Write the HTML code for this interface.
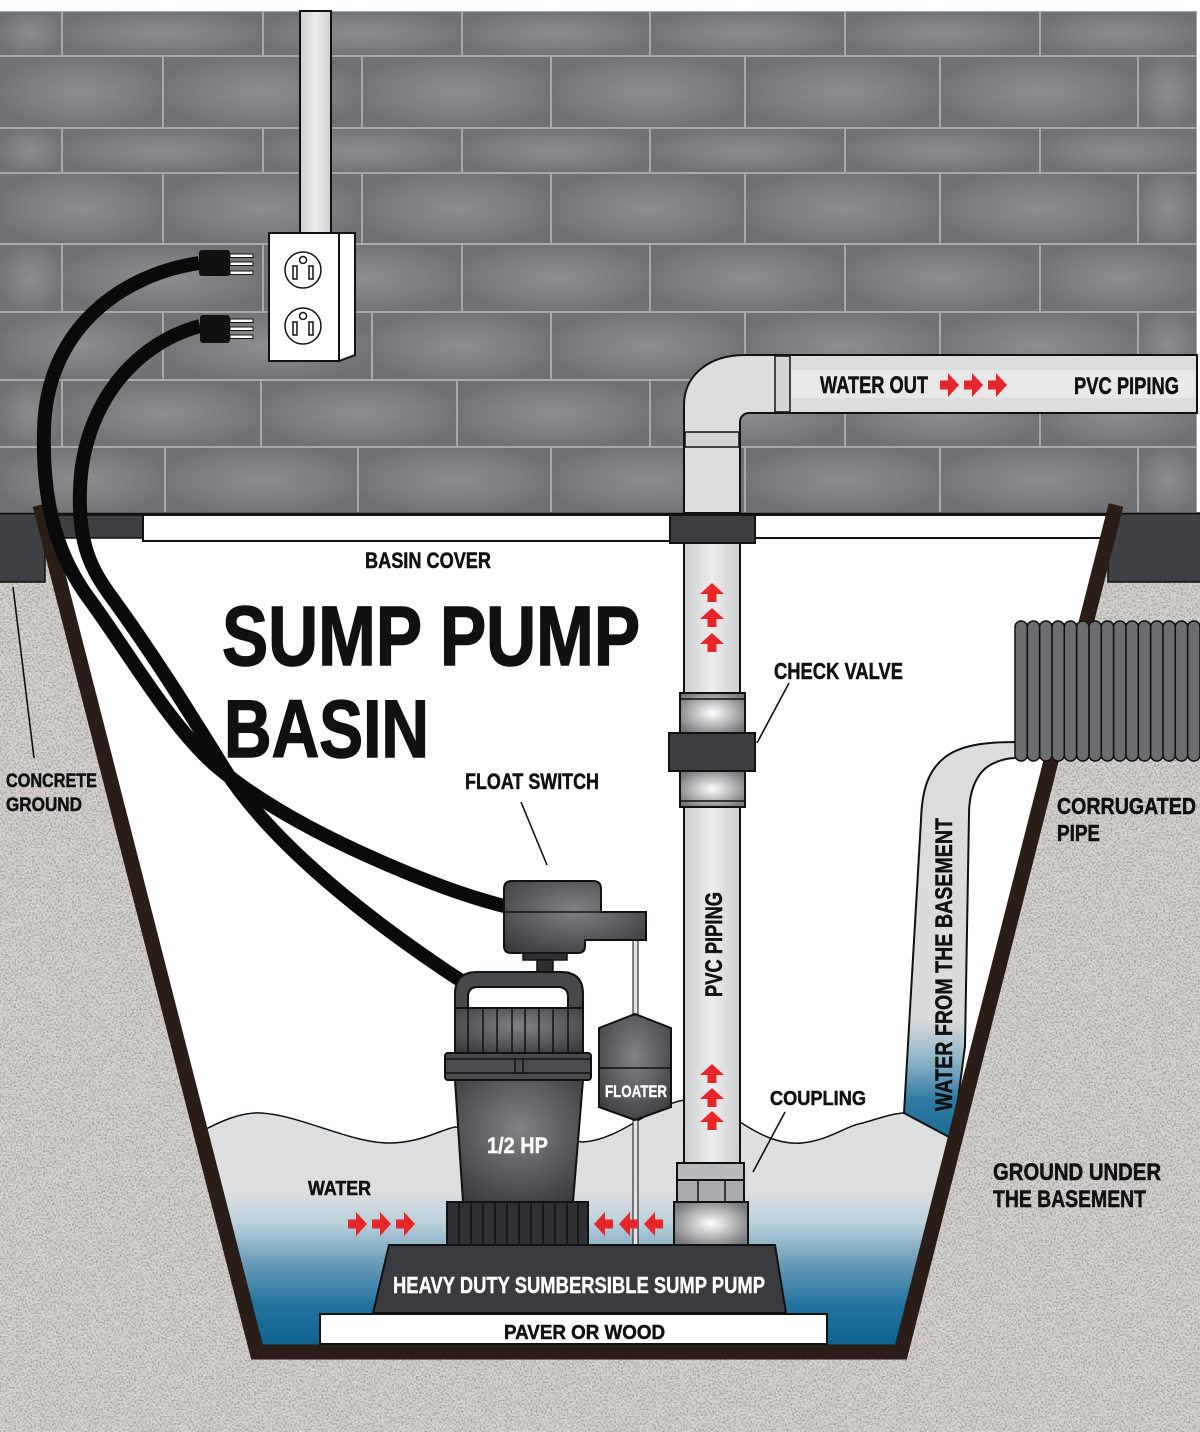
<!DOCTYPE html>
<html><head><meta charset="utf-8"><style>html,body{margin:0;padding:0;background:#fff}svg{display:block}</style></head>
<body>
<svg width="1200" height="1432" viewBox="0 0 1200 1432" xmlns="http://www.w3.org/2000/svg">
<defs>
<radialGradient id="brk" cx=".5" cy=".5" r=".55"><stop offset="0" stop-color="#8d8e91"/><stop offset=".55" stop-color="#7e7f82"/><stop offset="1" stop-color="#707174"/></radialGradient>
<linearGradient id="pipeV" x1="0" y1="0" x2="1" y2="0"><stop offset="0" stop-color="#cdced0"/><stop offset=".5" stop-color="#ececed"/><stop offset="1" stop-color="#cdced0"/></linearGradient>
<linearGradient id="pipeH" x1="0" y1="0" x2="0" y2="1"><stop offset="0" stop-color="#d0d1d3"/><stop offset=".5" stop-color="#ededee"/><stop offset="1" stop-color="#d0d1d3"/></linearGradient>
<radialGradient id="metal" cx=".5" cy=".5" r=".6"><stop offset="0" stop-color="#ffffff"/><stop offset=".35" stop-color="#cfcfd1"/><stop offset="1" stop-color="#77787b"/></radialGradient>
<radialGradient id="dark" cx=".5" cy=".4" r=".7"><stop offset="0" stop-color="#818286"/><stop offset=".6" stop-color="#56575b"/><stop offset="1" stop-color="#3a3b3e"/></radialGradient>
<linearGradient id="water" gradientUnits="userSpaceOnUse" x1="0" y1="1095" x2="0" y2="1350"><stop offset="0" stop-color="#dedfe1"/><stop offset=".38" stop-color="#dcdee0"/><stop offset=".5" stop-color="#bcd1dc"/><stop offset=".65" stop-color="#6e9fb9"/><stop offset=".82" stop-color="#2574a0"/><stop offset="1" stop-color="#0c5f8c"/></linearGradient>
<linearGradient id="inlet" gradientUnits="userSpaceOnUse" x1="0" y1="740" x2="0" y2="1140"><stop offset="0" stop-color="#dcdddf"/><stop offset=".7" stop-color="#d9dadc"/><stop offset=".8" stop-color="#8db4c7"/><stop offset=".9" stop-color="#2f7aa2"/><stop offset="1" stop-color="#1a6b95"/></linearGradient>
<filter id="grain" x="0" y="0" width="1" height="1" color-interpolation-filters="sRGB">
<feTurbulence type="fractalNoise" baseFrequency="0.55" numOctaves="3" seed="7"/>
<feColorMatrix type="matrix" values="0 0 0 0 0.55  0 0 0 0 0.54  0 0 0 0 0.53  2.2 0 0 0 -0.95"/>
</filter>
<clipPath id="basin"><polygon points="40,507 1116,507 901,1352 257,1352"/></clipPath>
<path id="au" d="M0,-10 L12,1 L4.5,1 L4.5,9 L-4.5,9 L-4.5,1 L-12,1 Z" fill="#e8262a"/>
</defs>

<rect width="1200" height="1432" fill="#fff"/>
<!-- ground -->
<rect x="0" y="513" width="1200" height="919" fill="#d6d3d0"/>
<rect x="0" y="513" width="1200" height="919" filter="url(#grain)"/>
<!-- concrete bands -->
<rect x="-2" y="513" width="47" height="69" fill="#404144" stroke="#111" stroke-width="1.5"/>
<rect x="1108" y="513" width="94" height="69" fill="#404144" stroke="#111" stroke-width="1.5"/>

<!-- basin interior -->
<polygon points="40,507 1116,507 901,1352 257,1352" fill="#fff"/>
<g clip-path="url(#basin)">
<path d="M195,1135 C225,1118 245,1112 261,1113 C300,1115 350,1143 389,1143 C420,1143 440,1130 455,1127 L583,1142 C620,1140 650,1106 684,1100 L740,1122 C760,1135 780,1145 802,1143 C830,1140 845,1126 863,1123 C880,1118 895,1113 904,1113 L960,1137 L960,1360 L195,1360 Z" fill="url(#water)"/>
<path d="M195,1135 C225,1118 245,1112 261,1113 C300,1115 350,1143 389,1143 C420,1143 440,1130 455,1127 L583,1142 C620,1140 650,1106 684,1100 L740,1122 C760,1135 780,1145 802,1143 C830,1140 845,1126 863,1123 C880,1118 895,1113 904,1113 L960,1137" fill="none" stroke="#111" stroke-width="1.5"/>
</g>

<!-- brick wall -->
<rect x="0" y="11" width="1197" height="502" fill="#a7a8ab"/>
<g fill="url(#brk)">
<rect x="0" y="12" width="61" height="43"/><rect x="63" y="12" width="199" height="43"/><rect x="264" y="12" width="197" height="43"/><rect x="463" y="12" width="186" height="43"/><rect x="651" y="12" width="193" height="43"/><rect x="846" y="12" width="193" height="43"/><rect x="1041" y="12" width="155" height="43"/>
<rect x="0" y="57" width="162" height="70"/><rect x="164" y="57" width="197" height="70"/><rect x="363" y="57" width="187" height="70"/><rect x="552" y="57" width="192" height="70"/><rect x="746" y="57" width="193" height="70"/><rect x="941" y="57" width="196" height="70"/><rect x="1139" y="57" width="57" height="70"/>
<rect x="0" y="129" width="61" height="43"/><rect x="63" y="129" width="199" height="43"/><rect x="264" y="129" width="197" height="43"/><rect x="463" y="129" width="186" height="43"/><rect x="651" y="129" width="193" height="43"/><rect x="846" y="129" width="193" height="43"/><rect x="1041" y="129" width="155" height="43"/>
<rect x="0" y="174" width="162" height="69"/><rect x="164" y="174" width="197" height="69"/><rect x="363" y="174" width="187" height="69"/><rect x="552" y="174" width="192" height="69"/><rect x="746" y="174" width="193" height="69"/><rect x="941" y="174" width="196" height="69"/><rect x="1139" y="174" width="57" height="69"/>
<rect x="0" y="245" width="61" height="66"/><rect x="63" y="245" width="199" height="66"/><rect x="264" y="245" width="197" height="66"/><rect x="463" y="245" width="186" height="66"/><rect x="651" y="245" width="193" height="66"/><rect x="846" y="245" width="193" height="66"/><rect x="1041" y="245" width="155" height="66"/>
<rect x="0" y="313" width="162" height="66"/><rect x="164" y="313" width="207" height="66"/><rect x="373" y="313" width="177" height="66"/><rect x="552" y="313" width="192" height="66"/><rect x="746" y="313" width="193" height="66"/><rect x="941" y="313" width="196" height="66"/><rect x="1139" y="313" width="57" height="66"/>
<rect x="0" y="381" width="61" height="65"/><rect x="63" y="381" width="197" height="65"/><rect x="262" y="381" width="194" height="65"/><rect x="458" y="381" width="191" height="65"/><rect x="651" y="381" width="193" height="65"/><rect x="846" y="381" width="193" height="65"/><rect x="1041" y="381" width="155" height="65"/>
<rect x="0" y="448" width="164" height="64"/><rect x="166" y="448" width="191" height="64"/><rect x="359" y="448" width="191" height="64"/><rect x="552" y="448" width="192" height="64"/><rect x="746" y="448" width="193" height="64"/><rect x="941" y="448" width="196" height="64"/><rect x="1139" y="448" width="57" height="64"/>
</g>
<line x1="0" y1="513.5" x2="1200" y2="513.5" stroke="#111" stroke-width="2"/>

<!-- basin cover -->
<rect x="57" y="515" width="86" height="23" fill="#3e3f42" stroke="#111" stroke-width="1.5"/>
<rect x="143" y="515" width="527" height="26" fill="#fff" stroke="#111" stroke-width="2"/>
<rect x="755" y="515" width="360" height="23" fill="#fff" stroke="#111" stroke-width="2"/>

<!-- inlet pipe -->
<path d="M1016,742 C985,742 960,745 944,758 C928,771 922,790 921,820 L904,1113 L949,1137 L958,1100 L965,1046 L969,815 C969,792 976,772 992,764 C1000,760 1008,758 1016,758 Z" fill="url(#inlet)" stroke="#111" stroke-width="2"/>

<!-- basin wall -->
<path d="M40,505 L257,1352 L901,1352 L1116,505" fill="none" stroke="#2a1d17" stroke-width="15" stroke-linejoin="miter"/>

<!-- corrugated pipe -->
<rect x="1015" y="623" width="185" height="136" fill="#6c6d70"/>
<g fill="#6c6d70" stroke="#111" stroke-width="1.5">
<rect x="1015" y="621" width="12.3" height="140" rx="6"/><rect x="1027.3" y="621" width="12.3" height="140" rx="6"/><rect x="1039.7" y="621" width="12.3" height="140" rx="6"/><rect x="1052" y="621" width="12.3" height="140" rx="6"/><rect x="1064.3" y="621" width="12.3" height="140" rx="6"/><rect x="1076.7" y="621" width="12.3" height="140" rx="6"/><rect x="1089" y="621" width="12.3" height="140" rx="6"/><rect x="1101.3" y="621" width="12.3" height="140" rx="6"/><rect x="1113.7" y="621" width="12.3" height="140" rx="6"/><rect x="1126" y="621" width="12.3" height="140" rx="6"/><rect x="1138.3" y="621" width="12.3" height="140" rx="6"/><rect x="1150.7" y="621" width="12.3" height="140" rx="6"/><rect x="1163" y="621" width="12.3" height="140" rx="6"/><rect x="1175.3" y="621" width="12.3" height="140" rx="6"/><rect x="1187.7" y="621" width="12.3" height="140" rx="6"/>
</g>

<!-- conduit & outlet -->
<rect x="300" y="11" width="31" height="222" fill="url(#pipeV)" stroke="#111" stroke-width="2"/>
<polygon points="339,233 355,233 355,355 339,361" fill="#fff" stroke="#111" stroke-width="2"/>
<rect x="269" y="233" width="70" height="128" fill="#fff" stroke="#111" stroke-width="2"/>
<g fill="#fff" stroke="#111" stroke-width="1.5">
<circle cx="303" cy="270" r="18"/><circle cx="303" cy="260" r="3.5"/><rect x="293" y="266" width="4" height="13"/><rect x="309" y="266" width="4" height="13"/>
<circle cx="303" cy="326" r="18"/><circle cx="303" cy="316" r="3.5"/><rect x="293" y="322" width="4" height="13"/><rect x="309" y="322" width="4" height="13"/>
</g>

<!-- pipes -->
<path d="M684,513 L684,405 C684,376 708,355 745,355 L1197,355 L1197,413 L749,413 C744,413 740,417 740,422 L740,513" fill="#dcdddf" stroke="#111" stroke-width="2"/>
<rect x="790" y="370" width="405" height="28" fill="#e8e8e9"/>
<rect x="775" y="356" width="15" height="56" fill="#d3d4d6" stroke="#111" stroke-width="1.5"/>
<rect x="685" y="432" width="54" height="15" fill="#d3d4d6" stroke="#111" stroke-width="1.5"/>
<rect x="684" y="513" width="56" height="180" fill="url(#pipeV)" stroke="#111" stroke-width="2"/>
<rect x="670" y="515" width="85" height="28" fill="#3d3e41" stroke="#111" stroke-width="2"/>
<rect x="684" y="807" width="56" height="356" fill="url(#pipeV)" stroke="#111" stroke-width="2"/>
<!-- check valve -->
<rect x="680" y="693" width="65" height="40" fill="url(#metal)" stroke="#111" stroke-width="2"/>
<line x1="680" y1="699" x2="745" y2="699" stroke="#111" stroke-width="1.5"/>
<rect x="680" y="771" width="65" height="36" fill="url(#metal)" stroke="#111" stroke-width="2"/>
<line x1="680" y1="801" x2="745" y2="801" stroke="#111" stroke-width="1.5"/>
<rect x="669" y="733" width="86" height="38" fill="#3d3e41" stroke="#111" stroke-width="2"/>

<!-- cords -->
<g fill="none" stroke="#0a0a0a" stroke-width="14">
<path d="M200,326 C130,345 82,410 80,490 C78,545 92,570 110,595 C150,650 185,705 225,770 C270,840 360,915 466,984"/>
<path d="M199,263 C120,275 46,330 44,430 C42,510 60,560 90,600 C130,655 170,725 215,765 C270,812 350,850 420,878 C455,892 480,900 508,907"/>
</g>
<!-- plugs -->
<rect x="199" y="250" width="31" height="26" rx="3" fill="#111"/>
<rect x="200" y="315" width="30" height="28" rx="3" fill="#111"/>
<g fill="#fff" stroke="#111" stroke-width="1">
<rect x="230" y="254" width="23" height="3.5"/><rect x="230" y="262" width="23" height="3.5"/><rect x="230" y="271" width="23" height="3.5"/>
<rect x="230" y="319" width="23" height="3.5"/><rect x="230" y="327" width="23" height="3.5"/><rect x="230" y="335" width="23" height="3.5"/>
</g>

<!-- float rod -->
<rect x="633" y="940" width="5" height="305" fill="#e2e3e5" stroke="#111" stroke-width="1"/>

<!-- float switch head -->
<path d="M512,881 L593,881 Q601,881 601,889 L601,912 L646,912 L646,940 L585,940 L585,946 Q585,953 578,953 L511,953 Q504,953 504,946 L504,889 Q504,881 512,881 Z" fill="url(#dark)" stroke="#111" stroke-width="2"/>
<line x1="504" y1="912" x2="601" y2="912" stroke="#111" stroke-width="1.5"/>
<rect x="523" y="953" width="44" height="7" fill="#2e2f32" stroke="#111" stroke-width="1.5"/>
<rect x="537" y="960" width="16" height="12" fill="#2e2f32" stroke="#111" stroke-width="1.5"/>

<!-- pump -->
<path d="M455,1010 L455,994 Q455,972 477,972 L561,972 Q583,972 583,994 L583,1010 Z" fill="#47484c" stroke="#111" stroke-width="2"/>
<path d="M468,1009 L468,997 Q468,987 478,987 L558,987 Q568,987 568,997 L568,1009 Z" fill="#fff" stroke="#111" stroke-width="2"/>
<rect x="455" y="1008" width="128" height="45" fill="url(#dark)" stroke="#111" stroke-width="2"/>
<g stroke="#111" stroke-width="1.5">
<line x1="468" y1="1008" x2="468" y2="1053"/><line x1="483" y1="1008" x2="483" y2="1053"/><line x1="497" y1="1008" x2="497" y2="1053"/><line x1="512" y1="1008" x2="512" y2="1053"/><line x1="525" y1="1008" x2="525" y2="1053"/><line x1="539" y1="1008" x2="539" y2="1053"/><line x1="553" y1="1008" x2="553" y2="1053"/><line x1="568" y1="1008" x2="568" y2="1053"/>
</g>
<polygon points="455,1080 583,1080 573,1202 463,1202" fill="url(#dark)" stroke="#111" stroke-width="2"/>
<rect x="445" y="1053" width="146" height="27" rx="3" fill="#4a4b4f" stroke="#111" stroke-width="2"/>
<g stroke="#111" stroke-width="1.5">
<line x1="445" y1="1059" x2="591" y2="1059"/><line x1="445" y1="1073" x2="591" y2="1073"/>
<line x1="515" y1="1059" x2="515" y2="1073"/><line x1="523" y1="1059" x2="523" y2="1073"/>
</g>
<rect x="447" y="1202" width="141" height="43" fill="#2e2f32" stroke="#111" stroke-width="2"/>
<g stroke="#111" stroke-width="1.5">
<line x1="459" y1="1203" x2="459" y2="1244"/><line x1="471" y1="1203" x2="471" y2="1244"/><line x1="483" y1="1203" x2="483" y2="1244"/><line x1="495" y1="1203" x2="495" y2="1244"/><line x1="507" y1="1203" x2="507" y2="1244"/><line x1="519" y1="1203" x2="519" y2="1244"/><line x1="531" y1="1203" x2="531" y2="1244"/><line x1="543" y1="1203" x2="543" y2="1244"/><line x1="555" y1="1203" x2="555" y2="1244"/><line x1="567" y1="1203" x2="567" y2="1244"/><line x1="578" y1="1203" x2="578" y2="1244"/>
</g>

<!-- floater -->
<polygon points="599,1028 635,1014 671,1028 671,1107 635,1120 599,1107" fill="url(#dark)" stroke="#111" stroke-width="2"/>
<line x1="599" y1="1068" x2="671" y2="1068" stroke="#111" stroke-width="1.5"/>

<!-- coupling -->
<rect x="677" y="1163" width="67" height="17" fill="#b8b9bc" stroke="#111" stroke-width="2"/>
<rect x="677" y="1180" width="67" height="22" fill="#a9aaad" stroke="#111" stroke-width="2"/>
<line x1="698" y1="1180" x2="698" y2="1202" stroke="#111" stroke-width="1.5"/>
<line x1="725" y1="1180" x2="725" y2="1202" stroke="#111" stroke-width="1.5"/>
<rect x="674" y="1202" width="74" height="43" fill="url(#metal)" stroke="#111" stroke-width="2"/>

<!-- slab and paver -->
<polygon points="389,1245 775,1245 786,1313 373,1313" fill="#3a3b3e" stroke="#111" stroke-width="2"/>
<rect x="320" y="1314" width="507" height="30" fill="#fff" stroke="#111" stroke-width="2"/>

<!-- arrows -->
<use href="#au" x="712" y="593"/><use href="#au" x="712" y="618"/><use href="#au" x="712" y="643"/>
<use href="#au" x="712" y="1074"/><use href="#au" x="712" y="1098"/><use href="#au" x="712" y="1121"/>
<use href="#au" transform="translate(949,385) rotate(90)"/><use href="#au" transform="translate(973,385) rotate(90)"/><use href="#au" transform="translate(997,385) rotate(90)"/>
<use href="#au" transform="translate(357,1224) rotate(90)"/><use href="#au" transform="translate(381,1224) rotate(90)"/><use href="#au" transform="translate(405,1224) rotate(90)"/>
<use href="#au" transform="translate(604,1224) rotate(-90)"/><use href="#au" transform="translate(629,1224) rotate(-90)"/><use href="#au" transform="translate(654,1224) rotate(-90)"/>

<!-- leaders -->
<g stroke="#111" stroke-width="1.6">
<line x1="13" y1="587" x2="34" y2="758"/>
<line x1="521" y1="802" x2="547" y2="865"/>
<line x1="789" y1="683" x2="757" y2="743"/>
<line x1="785" y1="1112" x2="753" y2="1172"/>
</g>

<!-- text -->
<g font-family="'Liberation Sans Narrow','Liberation Sans',sans-serif" font-weight="700" fill="#111" stroke="#111" stroke-width="0.5">
<text x="222" y="665" font-size="84" textLength="418" lengthAdjust="spacingAndGlyphs" stroke-width="1.5">SUMP PUMP</text>
<text x="224" y="757" font-size="82" textLength="205" lengthAdjust="spacingAndGlyphs" stroke-width="1.5">BASIN</text>
<text x="365" y="568" font-size="22" textLength="126" lengthAdjust="spacingAndGlyphs">BASIN COVER</text>
<text x="6" y="787" font-size="19" textLength="91" lengthAdjust="spacingAndGlyphs">CONCRETE</text>
<text x="6" y="811" font-size="19" textLength="76" lengthAdjust="spacingAndGlyphs">GROUND</text>
<text x="465" y="789" font-size="22" textLength="134" lengthAdjust="spacingAndGlyphs">FLOAT SWITCH</text>
<text x="774" y="679" font-size="23" textLength="129" lengthAdjust="spacingAndGlyphs">CHECK VALVE</text>
<text x="1057" y="814" font-size="23" textLength="139" lengthAdjust="spacingAndGlyphs">CORRUGATED</text>
<text x="1057" y="841" font-size="23" textLength="43" lengthAdjust="spacingAndGlyphs">PIPE</text>
<text x="820" y="393" font-size="24" textLength="108" lengthAdjust="spacingAndGlyphs">WATER OUT</text>
<text x="1074" y="394" font-size="24" textLength="105" lengthAdjust="spacingAndGlyphs">PVC PIPING</text>
<text transform="translate(722,997) rotate(-90)" font-size="24" textLength="105" lengthAdjust="spacingAndGlyphs">PVC PIPING</text>
<text transform="translate(952,1111) rotate(-90)" font-size="24" textLength="293" lengthAdjust="spacingAndGlyphs">WATER FROM THE BASEMENT</text>
<text x="770" y="1105" font-size="20" textLength="96" lengthAdjust="spacingAndGlyphs">COUPLING</text>
<text x="993" y="1180" font-size="24" textLength="168" lengthAdjust="spacingAndGlyphs">GROUND UNDER</text>
<text x="993" y="1207" font-size="24" textLength="153" lengthAdjust="spacingAndGlyphs">THE BASEMENT</text>
<text x="308" y="1195" font-size="20" textLength="63" lengthAdjust="spacingAndGlyphs">WATER</text>
<text x="504" y="1339" font-size="20" textLength="161" lengthAdjust="spacingAndGlyphs">PAVER OR WOOD</text>
<g fill="#fff" stroke="#fff" stroke-width="0.4">
<text x="487" y="1153" font-size="22" textLength="61" lengthAdjust="spacingAndGlyphs">1/2 HP</text>
<text x="605" y="1097" font-size="17" textLength="62" lengthAdjust="spacingAndGlyphs">FLOATER</text>
<text x="393" y="1293" font-size="23" textLength="372" lengthAdjust="spacingAndGlyphs">HEAVY DUTY SUMBERSIBLE SUMP PUMP</text>
</g>
</g>
</svg>
</body></html>
